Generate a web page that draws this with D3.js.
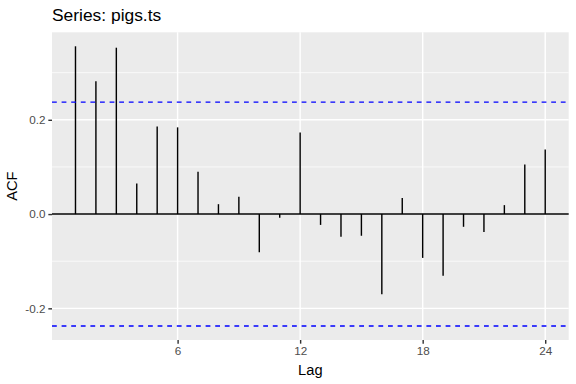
<!DOCTYPE html>
<html>
<head>
<meta charset="utf-8">
<script src="https://cdn.jsdelivr.net/npm/d3@7"></script>
<style>
html,body{margin:0;padding:0;background:#fff;}
svg{display:block;font-family:"Liberation Sans",Arial,Helvetica,sans-serif;}
</style>
</head>
<body>
<svg id="chart" width="576" height="384"></svg>
<script>
const title = "Series: pigs.ts";
const lags = [1,2,3,4,5,6,7,8,9,10,11,12,13,14,15,16,17,18,19,20,21,22,23,24];
const acfValues = [0.356,0.282,0.353,0.065,0.186,0.184,0.090,0.021,0.037,-0.081,-0.008,0.173,
                   -0.023,-0.048,-0.046,-0.170,0.034,-0.093,-0.131,-0.027,-0.038,0.019,0.105,0.137];
const ciLimit = 0.2375;
const xTicks = [6,12,18,24];
const yTicks = [-0.2,0.0,0.2];
const yMinorTicks = [-0.1,0.1,0.3];

const svg = d3.select("#chart");
const margin = {left:52, right:7.3, top:32.3, bottom:44};
const W = 576, H = 384;
const pw = W - margin.left - margin.right;
const ph = H - margin.top - margin.bottom;

const xmin = d3.min(lags), xmax = d3.max(lags);
const xpad = (xmax - xmin) * 0.05;
const x = d3.scaleLinear().domain([xmin - xpad, xmax + xpad]).range([margin.left, margin.left + pw]);
const ylo = Math.min(d3.min(acfValues), -ciLimit), yhi = Math.max(d3.max(acfValues), ciLimit);
const ypad = (yhi - ylo) * 0.05;
const y = d3.scaleLinear().domain([ylo - ypad, yhi + ypad]).range([margin.top + ph, margin.top]);

// panel
svg.append("rect").attr("x", margin.left).attr("y", margin.top)
  .attr("width", pw).attr("height", ph).attr("fill", "#EBEBEB");

const g = svg.append("g");
// minor grid
g.selectAll(".ymin").data(yMinorTicks).join("line")
  .attr("x1", margin.left).attr("x2", margin.left + pw)
  .attr("y1", d => y(d)).attr("y2", d => y(d))
  .attr("stroke", "#fff").attr("stroke-width", 0.71);
// major grid
g.selectAll(".ymaj").data(yTicks).join("line")
  .attr("x1", margin.left).attr("x2", margin.left + pw)
  .attr("y1", d => y(d)).attr("y2", d => y(d))
  .attr("stroke", "#fff").attr("stroke-width", 1.42);
g.selectAll(".xmaj").data(xTicks).join("line")
  .attr("y1", margin.top).attr("y2", margin.top + ph)
  .attr("x1", d => x(d)).attr("x2", d => x(d))
  .attr("stroke", "#fff").attr("stroke-width", 1.42);

// zero line
g.append("line").attr("x1", margin.left).attr("x2", margin.left + pw)
  .attr("y1", y(0)).attr("y2", y(0)).attr("stroke", "#000").attr("stroke-width", 1.42);

// spikes
g.selectAll(".spike").data(lags).join("line")
  .attr("x1", d => x(d)).attr("x2", d => x(d))
  .attr("y1", y(0)).attr("y2", (d, i) => y(acfValues[i]))
  .attr("stroke", "#000").attr("stroke-width", 1.42);

// CI lines
g.selectAll(".ci").data([ciLimit, -ciLimit]).join("line")
  .attr("x1", margin.left).attr("x2", margin.left + pw)
  .attr("y1", d => y(d)).attr("y2", d => y(d))
  .attr("stroke", "#0000FF").attr("stroke-width", 1.42)
  .attr("stroke-dasharray", "4.8,4.8");

// axes
const xAxis = d3.axisBottom(x).tickValues(xTicks).tickFormat(d3.format("d")).tickSize(3.67).tickPadding(2.9);
const yAxis = d3.axisLeft(y).tickValues(yTicks).tickFormat(d3.format(".1f")).tickSize(3.67).tickPadding(2.9);

const gx = svg.append("g").attr("transform", `translate(0,${margin.top + ph})`).call(xAxis);
const gy = svg.append("g").attr("transform", `translate(${margin.left},0)`).call(yAxis);
[gx, gy].forEach(a => {
  a.select(".domain").remove();
  a.selectAll(".tick line").attr("stroke", "#333333").attr("stroke-width", 1.42);
  a.selectAll(".tick text").attr("fill", "#4D4D4D").style("font-size", "11.7px")
    .style("font-family", '"Liberation Sans",Arial,Helvetica,sans-serif');
});
gy.selectAll(".tick text").text(d => d3.format(".1f")(d).replace("−", "-"));

// titles
svg.append("text").attr("x", margin.left).attr("y", 21)
  .attr("fill", "#000").style("font-size", "17.4px").text(title);
svg.append("text").attr("x", margin.left + pw / 2).attr("y", 374.5)
  .attr("text-anchor", "middle").attr("fill", "#000").style("font-size", "14.67px").text("Lag");
svg.append("text").attr("transform", `translate(17,${margin.top + ph / 2}) rotate(-90)`)
  .attr("text-anchor", "middle").attr("fill", "#000").style("font-size", "14.67px").text("ACF");
</script>
</body>
</html>
